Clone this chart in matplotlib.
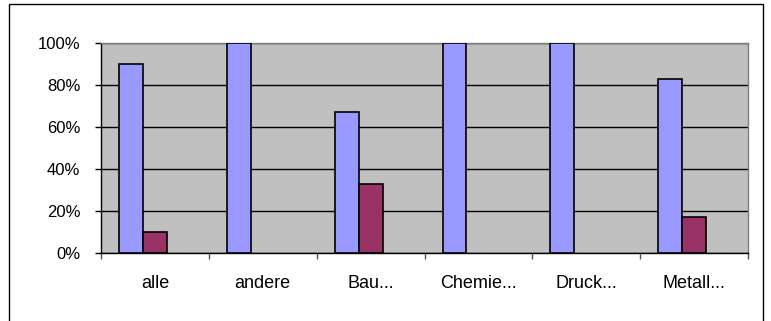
import matplotlib
matplotlib.use("Agg")
import matplotlib.pyplot as plt
from matplotlib.patches import Rectangle
from matplotlib.ticker import FixedLocator, PercentFormatter
import numpy as np

plt.rcParams["font.family"] = ["Liberation Sans", "DejaVu Sans"]

categories = ["alle", "andere", "Bau...", "Chemie...", "Druck...", "Metall..."]
share_a = [90, 100, 67, 100, 100, 83]
share_b = [10, 0, 33, 0, 0, 17]
share_c = [0, 0, 0, 0, 0, 0]

W, H = 771, 321
fig = plt.figure(figsize=(W / 100, H / 100), dpi=100)
ax = fig.add_axes([101 / W, 1 - 253 / H, (748 - 101) / W, (253 - 43) / H])
ax.set_facecolor("#c0c0c0")

x = np.arange(len(categories)) + 0.5
w = 0.222


def outline(values):
    # empty bars get no outline so nothing shows on the base line
    return [1.2 if v > 0 else 0 for v in values]


ax.bar(x - w, share_a, w, color="#9999ff", edgecolor="black",
       linewidth=outline(share_a), zorder=3)
ax.bar(x, share_b, w, color="#993366", edgecolor="black",
       linewidth=outline(share_b), zorder=3)
ax.bar(x + w, share_c, w, color="#ffffcc", edgecolor="black",
       linewidth=outline(share_c), zorder=3)

ax.set_xlim(0, len(categories))
ax.set_ylim(0, 100)
ax.yaxis.set_major_locator(FixedLocator([0, 20, 40, 60, 80, 100]))
ax.yaxis.set_major_formatter(PercentFormatter(decimals=0))
ax.grid(axis="y", color="black", linewidth=1, zorder=1)

# category boundaries carry the x ticks, labels sit in between
ax.set_xticks(np.arange(len(categories) + 1))
ax.set_xticklabels([])
ax.set_xticks(x, minor=True)
ax.set_xticklabels(categories, minor=True, fontsize=13)
ax.tick_params(axis="x", which="major", direction="out", length=4, width=1, color="#555555")
ax.tick_params(axis="x", which="minor", length=0, pad=16)
ax.tick_params(axis="y", direction="out", length=4, width=1, labelsize=12, pad=11)

for side in ("top", "right"):
    ax.spines[side].set_color("#808080")
    ax.spines[side].set_linewidth(1)
for side in ("left", "bottom"):
    ax.spines[side].set_color("black")
    ax.spines[side].set_linewidth(1)

# outer chart frame
frame = Rectangle((9 / W, -0.05), (763 - 9) / W, 1.05 - 4 / H,
                  transform=fig.transFigure, fill=False, edgecolor="black",
                  linewidth=1, clip_on=False)
fig.patches.append(frame)

fig.savefig("out.png", dpi=100)
